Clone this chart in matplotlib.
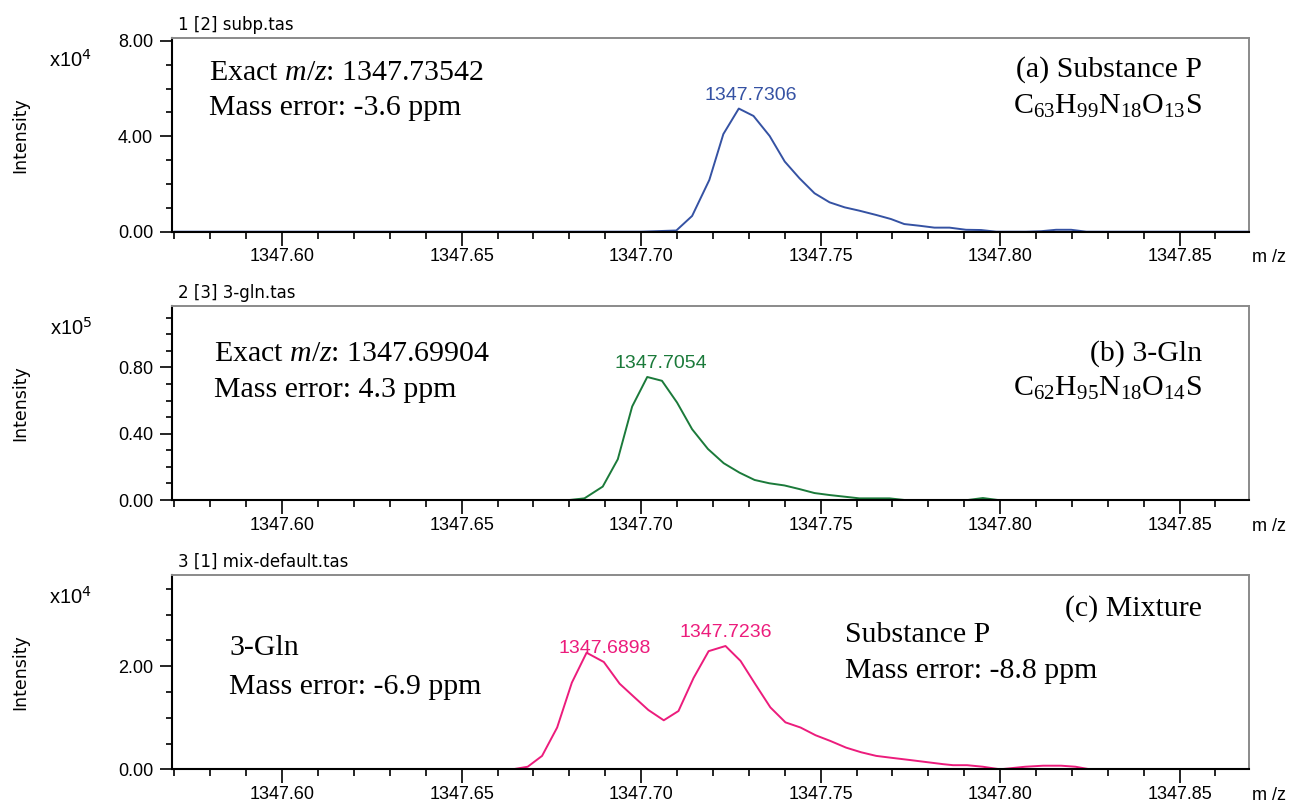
import numpy as np
import matplotlib
matplotlib.use('Agg')
import matplotlib.pyplot as plt
from matplotlib.ticker import MultipleLocator, FormatStrFormatter
import matplotlib.transforms as mtransforms

# profile data: m/z and intensity (in units of the axis multiplier)
mz_subp = [1347.570, 1347.700, 1347.7098, 1347.7142, 1347.7190, 1347.7229, 1347.7272,
           1347.7313, 1347.7358, 1347.7400, 1347.7441, 1347.7483, 1347.7525, 1347.7567,
           1347.7608, 1347.7655, 1347.7696, 1347.7733, 1347.7775, 1347.7817, 1347.7859,
           1347.7905, 1347.7947, 1347.7989, 1347.8072, 1347.8114, 1347.8156, 1347.8198,
           1347.8240, 1347.869]
int_subp = [0, 0, 0.05, 0.66, 2.17, 4.09, 5.16,
            4.85, 4.01, 2.94, 2.24, 1.61, 1.23, 1.02,
            0.88, 0.70, 0.53, 0.32, 0.25, 0.17, 0.17,
            0.08, 0.07, 0.0, 0.0, 0.02, 0.08, 0.08,
            0.0, 0]

mz_gln = [1347.570, 1347.680, 1347.6842, 1347.6893, 1347.6935, 1347.6975, 1347.7017,
          1347.7058, 1347.7100, 1347.7142, 1347.7186, 1347.7230, 1347.7274, 1347.7316,
          1347.7357, 1347.7399, 1347.7441, 1347.7483, 1347.7525, 1347.7567, 1347.7608,
          1347.7650, 1347.7692, 1347.7734, 1347.7910, 1347.7952, 1347.7994, 1347.869]
int_gln = [0, 0, 0.010, 0.081, 0.246, 0.564, 0.742,
           0.719, 0.588, 0.427, 0.308, 0.222, 0.165, 0.121,
           0.101, 0.088, 0.066, 0.042, 0.030, 0.020, 0.010,
           0.010, 0.010, 0.0, 0.0, 0.012, 0.0, 0]

mz_mix = [1347.570, 1347.6642, 1347.6684, 1347.6724, 1347.6766, 1347.6807, 1347.6848,
          1347.6896, 1347.6940, 1347.6979, 1347.7020, 1347.7063, 1347.7104, 1347.7146,
          1347.7188, 1347.7235, 1347.7277, 1347.7318, 1347.7360, 1347.7402, 1347.7444,
          1347.7486, 1347.7527, 1347.7571, 1347.7613, 1347.7655, 1347.7701, 1347.7749,
          1347.7795, 1347.7841, 1347.7869, 1347.7908, 1347.7952, 1347.8000, 1347.8070,
          1347.8120, 1347.8170, 1347.8210, 1347.8250, 1347.869]
int_mix = [0, 0, 0.05, 0.26, 0.81, 1.68, 2.26,
           2.08, 1.66, 1.41, 1.15, 0.95, 1.13, 1.77,
           2.29, 2.39, 2.10, 1.65, 1.20, 0.91, 0.81,
           0.66, 0.55, 0.42, 0.33, 0.26, 0.22, 0.18,
           0.14, 0.10, 0.08, 0.08, 0.05, 0.0, 0.05,
           0.07, 0.07, 0.05, 0.0, 0]

titles = ['1 [2] subp.tas', '2 [3] 3-gln.tas', '3 [1] mix-default.tas']
exponents = [4, 5, 4]
ylims = [8.13, 1.17, 3.76]
y_majors = [4.0, 0.4, 2.0]
y_minors = [1.0, 0.1, 0.5]
colors = ['#3552a3', '#1b7a3a', '#ec1c7c']
peak_labels = [[1347.7306], [1347.7054], [1347.6898, 1347.7236]]

SANS = 'Liberation Sans'
SERIF = 'Liberation Serif'

plt.rcParams['mathtext.fontset'] = 'custom'
plt.rcParams['mathtext.rm'] = SERIF
plt.rcParams['mathtext.it'] = SERIF + ':italic'


def style_axes(ax, i):

    ax.set_xlim(1347.5693, 1347.8692)
    ax.set_ylim(0, ylims[i])

    ax.xaxis.set_major_locator(MultipleLocator(0.05))
    ax.xaxis.set_minor_locator(MultipleLocator(0.01))
    ax.xaxis.set_major_formatter(FormatStrFormatter('%.2f'))
    ax.yaxis.set_major_locator(MultipleLocator(y_majors[i]))
    ax.yaxis.set_minor_locator(MultipleLocator(y_minors[i]))
    ax.yaxis.set_major_formatter(FormatStrFormatter('%.2f'))

    ax.tick_params(axis='x', which='major', direction='out', length=10, width=1.2, pad=2)
    ax.tick_params(axis='x', which='minor', direction='out', length=5, width=1.2)
    ax.tick_params(axis='y', which='major', direction='out', length=8.5, width=1.2, pad=5)
    ax.tick_params(axis='y', which='minor', direction='out', length=4.3, width=1.2)
    for lab in ax.get_xticklabels() + ax.get_yticklabels():
        lab.set_fontfamily(SANS)
        lab.set_fontsize(13)

    for side in ['left', 'bottom']:
        ax.spines[side].set_color('black')
        ax.spines[side].set_linewidth(1.5)
    for side in ['top', 'right']:
        ax.spines[side].set_color('#8a8a8a')
        ax.spines[side].set_linewidth(1.4)

    ax.text(-0.141, 0.5, 'Intensity', transform=ax.transAxes, rotation=90,
            ha='center', va='center', fontsize=12.5, family='DejaVu Sans')
    off = mtransforms.offset_copy(ax.transAxes, fig=ax.figure, x=0, y=-22, units='dots')
    ax.text(-0.094, 1.0, 'x10$^{%d}$' % exponents[i], transform=off,
            ha='center', va='center', fontsize=14.5, family=SANS,
            math_fontfamily='dejavusans')
    ax.text(1.0186, -0.134, 'm /z', transform=ax.transAxes,
            ha='center', va='center', fontsize=13, family=SANS)
    ax.annotate(titles[i], xy=(0.006, 1.0), xycoords='axes fraction',
                xytext=(0, 3), textcoords='offset points',
                ha='left', va='bottom', fontsize=12, family='DejaVu Sans')


def draw_peak_labels(ax, mz, inten, labels, color):

    mz = np.array(mz)
    inten = np.array(inten)
    for lab in labels:
        near = np.abs(mz - lab) < 0.005
        top = inten[near].max()
        ax.annotate('%.4f' % lab, xy=(lab, top), xytext=(0, 6.5),
                    textcoords='offset points', ha='center', va='baseline',
                    fontsize=14, family=SANS, color=color)


def serif_text(ax, x, y, s, ha='left'):

    ax.text(x, y, s, transform=ax.transAxes, ha=ha, va='baseline',
            fontsize=21.5, family=SERIF)


def main():

    fig = plt.figure(figsize=(12.95, 8.07), dpi=100)
    bottoms = [0.7129, 0.3804, 0.0467]
    series = [(mz_subp, int_subp), (mz_gln, int_gln), (mz_mix, int_mix)]

    axes = []
    for i in range(3):
        ax = fig.add_axes([0.1328, bottoms[i], 0.8313, 0.2404])
        mz, inten = series[i]
        ax.plot(mz, inten, color=colors[i], lw=1.4)
        style_axes(ax, i)
        draw_peak_labels(ax, mz, inten, peak_labels[i], colors[i])
        axes.append(ax)

    ax1, ax2, ax3 = axes

    serif_text(ax1, 0.0344, 0.782, 'Exact $\\mathit{m/z}$: 1347.73542')
    serif_text(ax1, 0.0344, 0.6015, 'Mass error: -3.6 ppm')
    serif_text(ax1, 0.957, 0.797, '(a) Substance P', ha='right')
    serif_text(ax1, 0.957, 0.607, 'C$_{63}$H$_{99}$N$_{18}$O$_{13}$S', ha='right')

    serif_text(ax2, 0.039, 0.7165, 'Exact $\\mathit{m/z}$: 1347.69904')
    serif_text(ax2, 0.039, 0.531, 'Mass error: 4.3 ppm')
    serif_text(ax2, 0.957, 0.7165, '(b) 3-Gln', ha='right')
    serif_text(ax2, 0.957, 0.536, 'C$_{62}$H$_{95}$N$_{18}$O$_{14}$S', ha='right')

    serif_text(ax3, 0.053, 0.589, '3-Gln')
    serif_text(ax3, 0.053, 0.388, 'Mass error: -6.9 ppm')
    serif_text(ax3, 0.957, 0.790, '(c) Mixture', ha='right')
    serif_text(ax3, 0.6255, 0.656, 'Substance P')
    serif_text(ax3, 0.6255, 0.471, 'Mass error: -8.8 ppm')

    fig.savefig('out.png', dpi=100)


if __name__ == '__main__':
    main()
